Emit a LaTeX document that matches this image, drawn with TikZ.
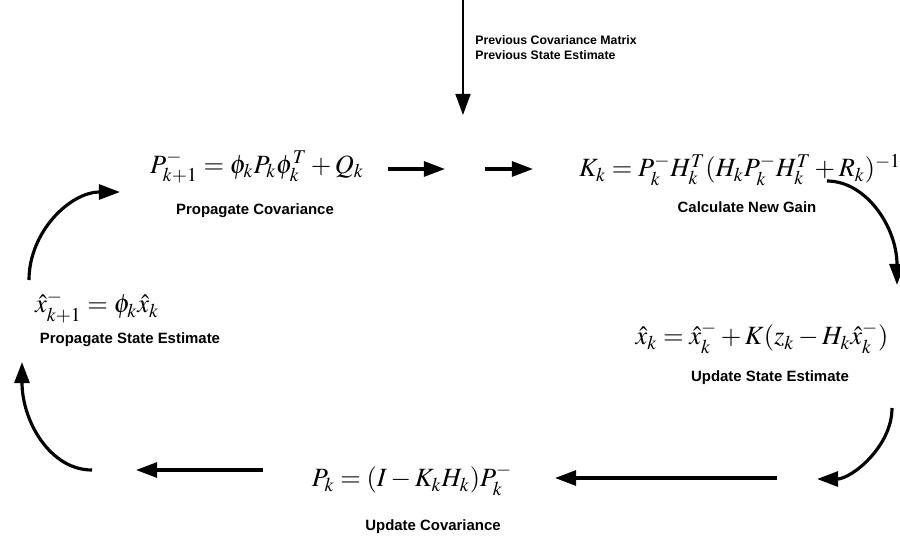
\documentclass[tikz,border=0pt]{standalone}
\usepackage{mathptmx}
\usepackage{fontspec}
\setsansfont{Liberation Sans}
\usetikzlibrary{arrows.meta}

\begin{document}
\begin{tikzpicture}[x=0.2mm, y=-0.2mm, >={Triangle[length=12pt,width=8.5pt]}]
  % Define styles
  \tikzstyle{eqn}=[inner sep=0pt, font=\fontsize{15}{17}\selectfont]
  \tikzstyle{caption}=[inner sep=0pt, font=\sffamily\bfseries\fontsize{8.5}{10}\selectfont]
  \tikzstyle{flow}=[->, line width=1.8pt]
  \useasboundingbox (0,0) rectangle (900,537);

  % Equations
  \node[eqn] (pcov) at (257,167) {$P^-_{k+1} = \phi_k P_k \phi_k^T + Q_k$};
  \node[eqn] (gain) at (740,170) {$K_k = P_k^- H_k^T (H_k P_k^- H_k^T + R_k)^{-1}$};
  \node[eqn] (xupd) at (762,338) {$\hat{x}_k = \hat{x}_k^- + K(z_k - H_k \hat{x}_k^-)$};
  \node[eqn] (pupd) at (412,480) {$P_k = (I - K_k H_k) P_k^-$};
  \node[eqn] (xprop) at (97,307) {$\hat{x}^-_{k+1} = \phi_k \hat{x}_k$};

  % Captions
  \node[caption] (pcovcap) at (255,211) {Propagate Covariance};
  \node[caption] (gaincap) at (747,207) {Calculate New Gain};
  \node[caption] (xupdcap) at (770,378) {Update State Estimate};
  \node[caption] (pupdcap) at (433,527) {Update Covariance};
  \node[caption] (xpropcap) at (130,340) {Propagate State Estimate};
  \node[caption, anchor=west, align=left, font=\sffamily\bfseries\fontsize{7}{8.5}\selectfont]
    (prev) at (475,48) {Previous Covariance Matrix\\Previous State Estimate};

  % Arrow ends
  \coordinate (in0) at (463,0);
  \coordinate (in1) at (463,115);
  \coordinate (r1a) at (388,169);
  \coordinate (r1b) at (445,169);
  \coordinate (r2a) at (485,169);
  \coordinate (r2b) at (533,169);
  \coordinate (c1a) at (827,181);
  \coordinate (c1b) at (897,285);
  \coordinate (c2a) at (892,408);
  \coordinate (c2b) at (817,479);
  \coordinate (b1a) at (777,478);
  \coordinate (b1b) at (555,478);
  \coordinate (b2a) at (263,470);
  \coordinate (b2b) at (136,470);
  \coordinate (c3a) at (92,470);
  \coordinate (c3b) at (22,362);
  \coordinate (c4a) at (29,280);
  \coordinate (c4b) at (120,192);

  % Transitions
  \draw[flow, line width=1.1pt] (in0) -- (in1);
  \draw[flow] (r1a) -- (r1b);
  \draw[flow] (r2a) -- (r2b);
  \draw[flow] (c1a) .. controls (866,181) and (897,227) .. (c1b);
  \draw[flow] (c2a) .. controls (892,447) and (851,479) .. (c2b);
  \draw[flow] (b1a) -- (b1b);
  \draw[flow] (b2a) -- (b2b);
  \draw[flow] (c3a) .. controls (50,470) and (22,421) .. (c3b);
  \draw[flow] (c4a) .. controls (29,232) and (70,192) .. (c4b);
\end{tikzpicture}
\end{document}
